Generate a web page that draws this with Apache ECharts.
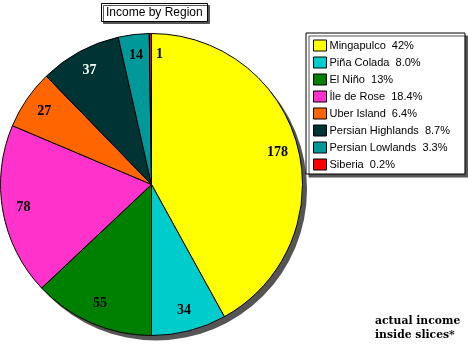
<!DOCTYPE html>
<html><head><meta charset="utf-8">
<script src="https://cdn.jsdelivr.net/npm/echarts@6/dist/echarts.min.js"></script>
<style>html,body{margin:0;padding:0;background:#fff}#c{width:468px;height:346px}</style>
</head><body><div id="c"></div>
<script>
var categories = ['Mingapulco', 'Piña Colada', 'El Niño', 'Île de Rose', 'Uber Island', 'Persian Highlands', 'Persian Lowlands', 'Siberia'];
var incomes = [178, 34, 55, 78, 27, 37, 14, 1];
var percentLabels = ['42%', '8.0%', '13%', '18.4%', '6.4%', '8.7%', '3.3%', '0.2%'];
var colors = ['#ffff00', '#00cccc', '#008000', '#ff33cc', '#ff6600', '#003333', '#009999', '#ff0000'];

var chart = echarts.init(document.getElementById('c'), null, {renderer: 'canvas'});
var total = incomes.reduce(function (a, b) { return a + b; }, 0);
var CENTER = [151.5, 184.5], R = 151, LABEL_R = 130;

var data = categories.map(function (n, i) {
  return {name: n, value: incomes[i], itemStyle: {color: colors[i]}};
});
function isDark(hex) {
  var r = parseInt(hex.substr(1, 2), 16), g = parseInt(hex.substr(3, 2), 16), b = parseInt(hex.substr(5, 2), 16);
  return (0.299 * r + 0.587 * g + 0.114 * b) < 60;
}
// value labels placed at each slice's mid-angle through a polar system sharing the pie's geometry
var cum = 0;
var labelPoints = categories.map(function (n, i) {
  var mid = cum + incomes[i] / 2;
  cum += incomes[i];
  var d = {name: n, value: [LABEL_R, mid, incomes[i]],
    label: {color: isDark(colors[i]) ? '#ffffff' : '#000000'}};
  if (incomes[i] / total < 0.005) d.label.offset = [9, 0];
  return d;
});
var pctMap = {};
categories.forEach(function (n, i) { pctMap[n] = percentLabels[i]; });

chart.setOption({
  animation: false,
  title: [{
    text: 'Income by Region',
    left: 101, top: 3,
    backgroundColor: '#fff', borderColor: '#000', borderWidth: 1,
    padding: [3, 5, 2, 5],
    shadowColor: '#555', shadowOffsetX: 2, shadowOffsetY: 2, shadowBlur: 0,
    textStyle: {fontFamily: 'Liberation Sans', fontSize: 12, fontWeight: 'normal', color: '#000', lineHeight: 14}
  }, {
    text: 'actual income\ninside slices*',
    left: 375, top: 314, padding: 0,
    textStyle: {fontFamily: 'DejaVu Serif', fontSize: 10.8, fontWeight: 'bold', color: '#000', lineHeight: 14}
  }],
  polar: {center: CENTER, radius: R},
  angleAxis: {type: 'value', min: 0, max: total, startAngle: 90, clockwise: true, show: false},
  radiusAxis: {type: 'value', min: 0, max: R, show: false},
  legend: {
    orient: 'vertical', left: 306, top: 33,
    data: categories,
    icon: 'rect', itemWidth: 13, itemHeight: 11, itemGap: 4,
    padding: [6, 15, 3, 7],
    backgroundColor: '#fff', borderColor: '#000', borderWidth: 1,
    shadowColor: '#555', shadowOffsetX: 3, shadowOffsetY: 3, shadowBlur: 0,
    itemStyle: {borderColor: '#000', borderWidth: 1},
    selectedMode: false,
    textStyle: {fontFamily: 'Liberation Sans', fontSize: 11, color: '#000', lineHeight: 13, padding: [0, 0, 0, -2]},
    formatter: function (name) { return name + '  ' + pctMap[name]; }
  },
  series: [{
    type: 'pie', silent: true, center: [CENTER[0] + 4.5, CENTER[1] + 5], radius: R,
    data: [{name: 'shadow', value: 1, itemStyle: {color: '#555'}}],
    label: {show: false}, labelLine: {show: false}
  }, {
    type: 'pie', silent: true, center: CENTER, radius: R,
    startAngle: 90, clockwise: true,
    data: data,
    itemStyle: {borderColor: '#000', borderWidth: 1},
    label: {show: false}, labelLine: {show: false}
  }, {
    type: 'scatter', name: 'values', coordinateSystem: 'polar', silent: true,
    symbolSize: 2, itemStyle: {color: 'rgba(0,0,0,0)', opacity: 1},
    data: labelPoints,
    label: {show: true, opacity: 1, position: ['50%', '50%'], align: 'center', verticalAlign: 'middle',
      formatter: function (p) { return p.value[2]; },
      fontFamily: 'Liberation Serif', fontWeight: 'bold', fontSize: 14},
    z: 10
  }]
});
</script></body></html>
